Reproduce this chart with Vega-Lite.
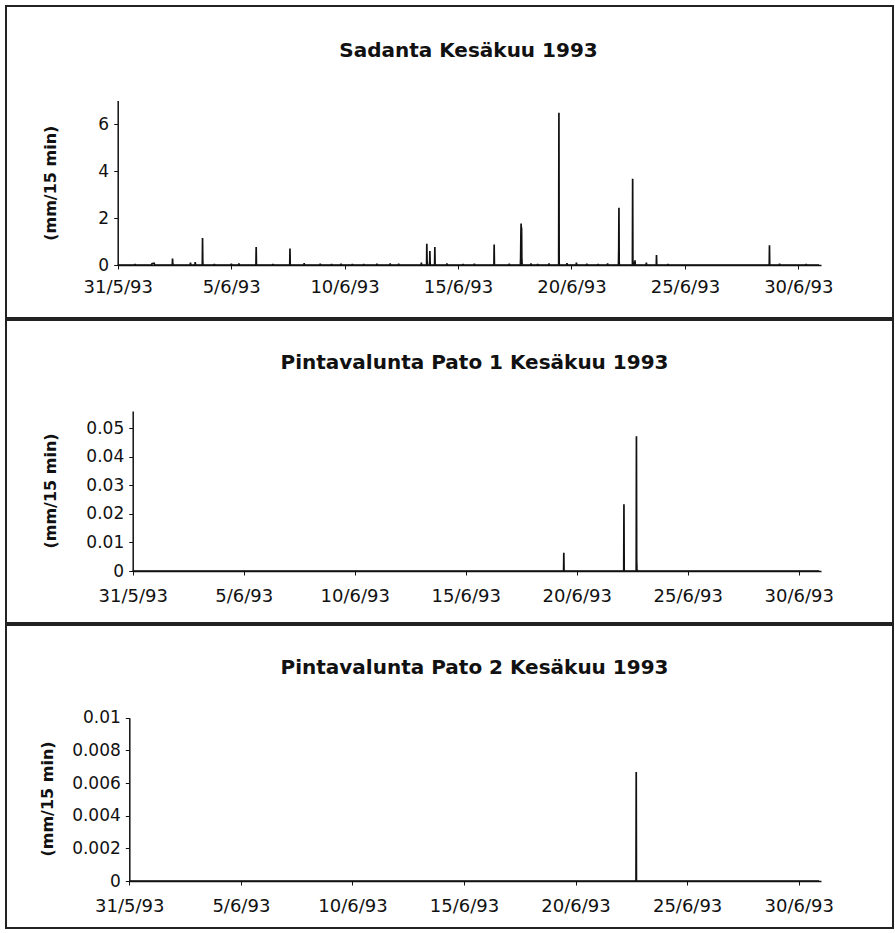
{
  "$schema": "https://vega.github.io/schema/vega-lite/v6.json",
  "padding": {"left": 5, "top": 5, "right": 3, "bottom": 4},
  "background": "white",
  "spacing": 0,
  "datasets": {
    "sadanta": [
      {"t": "1993-05-31 00:00", "v": 0},
      {"t": "1993-05-31 18:00", "v": 0}, {"t": "1993-05-31 18:15", "v": 0.05}, {"t": "1993-05-31 18:30", "v": 0},
      {"t": "1993-06-01 12:00", "v": 0}, {"t": "1993-06-01 12:15", "v": 0.06}, {"t": "1993-06-01 14:30", "v": 0.08}, {"t": "1993-06-01 14:45", "v": 0.05}, {"t": "1993-06-01 15:00", "v": 0},
      {"t": "1993-06-02 09:45", "v": 0}, {"t": "1993-06-02 10:00", "v": 0.27}, {"t": "1993-06-02 10:15", "v": 0.1}, {"t": "1993-06-02 10:30", "v": 0},
      {"t": "1993-06-03 04:45", "v": 0}, {"t": "1993-06-03 05:00", "v": 0.1}, {"t": "1993-06-03 05:15", "v": 0},
      {"t": "1993-06-03 09:45", "v": 0}, {"t": "1993-06-03 10:00", "v": 0.12}, {"t": "1993-06-03 10:15", "v": 0},
      {"t": "1993-06-03 17:30", "v": 0}, {"t": "1993-06-03 17:45", "v": 1.15}, {"t": "1993-06-03 18:00", "v": 0.1}, {"t": "1993-06-03 18:15", "v": 0},
      {"t": "1993-06-04 06:00", "v": 0}, {"t": "1993-06-04 06:15", "v": 0.05}, {"t": "1993-06-04 06:30", "v": 0},
      {"t": "1993-06-05 00:00", "v": 0}, {"t": "1993-06-05 00:15", "v": 0.06}, {"t": "1993-06-05 00:30", "v": 0},
      {"t": "1993-06-05 08:00", "v": 0}, {"t": "1993-06-05 08:15", "v": 0.07}, {"t": "1993-06-05 08:30", "v": 0},
      {"t": "1993-06-06 02:15", "v": 0}, {"t": "1993-06-06 02:30", "v": 0.77}, {"t": "1993-06-06 02:45", "v": 0.05}, {"t": "1993-06-06 03:00", "v": 0},
      {"t": "1993-06-06 20:00", "v": 0}, {"t": "1993-06-06 20:15", "v": 0.05}, {"t": "1993-06-06 20:30", "v": 0},
      {"t": "1993-06-07 14:00", "v": 0}, {"t": "1993-06-07 14:15", "v": 0.7}, {"t": "1993-06-07 14:30", "v": 0},
      {"t": "1993-06-08 05:00", "v": 0}, {"t": "1993-06-08 05:15", "v": 0.08}, {"t": "1993-06-08 05:30", "v": 0},
      {"t": "1993-06-08 22:00", "v": 0}, {"t": "1993-06-08 22:15", "v": 0.06}, {"t": "1993-06-08 22:30", "v": 0},
      {"t": "1993-06-09 10:00", "v": 0}, {"t": "1993-06-09 10:15", "v": 0.05}, {"t": "1993-06-09 10:30", "v": 0},
      {"t": "1993-06-09 20:00", "v": 0}, {"t": "1993-06-09 20:15", "v": 0.06}, {"t": "1993-06-09 20:30", "v": 0},
      {"t": "1993-06-10 08:00", "v": 0}, {"t": "1993-06-10 08:15", "v": 0.05}, {"t": "1993-06-10 08:30", "v": 0},
      {"t": "1993-06-10 20:00", "v": 0}, {"t": "1993-06-10 20:15", "v": 0.05}, {"t": "1993-06-10 20:30", "v": 0},
      {"t": "1993-06-11 10:00", "v": 0}, {"t": "1993-06-11 10:15", "v": 0.06}, {"t": "1993-06-11 10:30", "v": 0},
      {"t": "1993-06-12 00:00", "v": 0}, {"t": "1993-06-12 00:15", "v": 0.07}, {"t": "1993-06-12 00:30", "v": 0},
      {"t": "1993-06-12 09:00", "v": 0}, {"t": "1993-06-12 09:15", "v": 0.06}, {"t": "1993-06-12 09:30", "v": 0},
      {"t": "1993-06-13 09:00", "v": 0}, {"t": "1993-06-13 09:15", "v": 0.1}, {"t": "1993-06-13 09:30", "v": 0},
      {"t": "1993-06-13 14:45", "v": 0}, {"t": "1993-06-13 15:00", "v": 0.9}, {"t": "1993-06-13 15:15", "v": 0.2}, {"t": "1993-06-13 15:30", "v": 0.1}, {"t": "1993-06-13 15:45", "v": 0},
      {"t": "1993-06-13 18:00", "v": 0}, {"t": "1993-06-13 18:15", "v": 0.6}, {"t": "1993-06-13 18:30", "v": 0.1}, {"t": "1993-06-13 18:45", "v": 0},
      {"t": "1993-06-13 23:15", "v": 0}, {"t": "1993-06-13 23:30", "v": 0.77}, {"t": "1993-06-13 23:45", "v": 0},
      {"t": "1993-06-14 12:00", "v": 0}, {"t": "1993-06-14 12:15", "v": 0.07}, {"t": "1993-06-14 12:30", "v": 0},
      {"t": "1993-06-15 05:00", "v": 0}, {"t": "1993-06-15 05:15", "v": 0.05}, {"t": "1993-06-15 05:30", "v": 0},
      {"t": "1993-06-15 17:00", "v": 0}, {"t": "1993-06-15 17:15", "v": 0.06}, {"t": "1993-06-15 17:30", "v": 0},
      {"t": "1993-06-16 14:00", "v": 0}, {"t": "1993-06-16 14:15", "v": 0.87}, {"t": "1993-06-16 14:30", "v": 0},
      {"t": "1993-06-17 06:00", "v": 0}, {"t": "1993-06-17 06:15", "v": 0.06}, {"t": "1993-06-17 06:30", "v": 0},
      {"t": "1993-06-17 18:00", "v": 0}, {"t": "1993-06-17 18:15", "v": 0.3}, {"t": "1993-06-17 18:30", "v": 1.2}, {"t": "1993-06-17 18:45", "v": 1.77}, {"t": "1993-06-17 19:00", "v": 1.3}, {"t": "1993-06-17 19:15", "v": 1.6}, {"t": "1993-06-17 19:30", "v": 0.3}, {"t": "1993-06-17 19:45", "v": 0.1}, {"t": "1993-06-17 20:00", "v": 0},
      {"t": "1993-06-18 05:00", "v": 0}, {"t": "1993-06-18 05:15", "v": 0.07}, {"t": "1993-06-18 05:30", "v": 0},
      {"t": "1993-06-18 12:00", "v": 0}, {"t": "1993-06-18 12:15", "v": 0.05}, {"t": "1993-06-18 12:30", "v": 0},
      {"t": "1993-06-19 00:00", "v": 0}, {"t": "1993-06-19 00:15", "v": 0.07}, {"t": "1993-06-19 00:30", "v": 0},
      {"t": "1993-06-19 10:30", "v": 0}, {"t": "1993-06-19 10:45", "v": 6.48}, {"t": "1993-06-19 11:00", "v": 0.1}, {"t": "1993-06-19 11:15", "v": 0},
      {"t": "1993-06-19 19:00", "v": 0}, {"t": "1993-06-19 19:15", "v": 0.08}, {"t": "1993-06-19 19:30", "v": 0},
      {"t": "1993-06-20 05:00", "v": 0}, {"t": "1993-06-20 05:15", "v": 0.1}, {"t": "1993-06-20 05:30", "v": 0},
      {"t": "1993-06-20 16:00", "v": 0}, {"t": "1993-06-20 16:15", "v": 0.06}, {"t": "1993-06-20 16:30", "v": 0},
      {"t": "1993-06-21 04:00", "v": 0}, {"t": "1993-06-21 04:15", "v": 0.05}, {"t": "1993-06-21 04:30", "v": 0},
      {"t": "1993-06-21 14:00", "v": 0}, {"t": "1993-06-21 14:15", "v": 0.07}, {"t": "1993-06-21 14:30", "v": 0},
      {"t": "1993-06-22 01:45", "v": 0}, {"t": "1993-06-22 02:00", "v": 0.66}, {"t": "1993-06-22 02:15", "v": 2.44}, {"t": "1993-06-22 02:30", "v": 0.1}, {"t": "1993-06-22 02:45", "v": 0},
      {"t": "1993-06-22 16:30", "v": 0}, {"t": "1993-06-22 16:45", "v": 3.67}, {"t": "1993-06-22 17:00", "v": 0.2}, {"t": "1993-06-22 17:15", "v": 0.1}, {"t": "1993-06-22 17:30", "v": 0},
      {"t": "1993-06-22 19:00", "v": 0}, {"t": "1993-06-22 19:15", "v": 0.2}, {"t": "1993-06-22 19:30", "v": 0},
      {"t": "1993-06-23 07:00", "v": 0}, {"t": "1993-06-23 07:15", "v": 0.1}, {"t": "1993-06-23 07:30", "v": 0},
      {"t": "1993-06-23 17:45", "v": 0}, {"t": "1993-06-23 18:00", "v": 0.42}, {"t": "1993-06-23 18:15", "v": 0},
      {"t": "1993-06-24 06:00", "v": 0}, {"t": "1993-06-24 06:15", "v": 0.04}, {"t": "1993-06-24 06:30", "v": 0},
      {"t": "1993-06-28 17:15", "v": 0}, {"t": "1993-06-28 17:30", "v": 0.84}, {"t": "1993-06-28 17:45", "v": 0},
      {"t": "1993-06-29 04:00", "v": 0}, {"t": "1993-06-29 04:15", "v": 0.06}, {"t": "1993-06-29 04:30", "v": 0},
      {"t": "1993-06-30 08:00", "v": 0}, {"t": "1993-06-30 08:15", "v": 0.05}, {"t": "1993-06-30 08:30", "v": 0},
      {"t": "1993-06-30 22:00", "v": 0}
    ],
    "pato1": [
      {"t": "1993-05-31 00:00", "v": 0},
      {"t": "1993-06-19 09:45", "v": 0}, {"t": "1993-06-19 10:00", "v": 0.0064}, {"t": "1993-06-19 10:15", "v": 0},
      {"t": "1993-06-22 02:45", "v": 0}, {"t": "1993-06-22 03:00", "v": 0.0234}, {"t": "1993-06-22 03:15", "v": 0},
      {"t": "1993-06-22 16:15", "v": 0}, {"t": "1993-06-22 16:30", "v": 0.0472}, {"t": "1993-06-22 16:45", "v": 0.004}, {"t": "1993-06-22 17:00", "v": 0.001}, {"t": "1993-06-22 17:15", "v": 0},
      {"t": "1993-06-30 22:00", "v": 0}
    ],
    "pato2": [
      {"t": "1993-05-31 00:00", "v": 0},
      {"t": "1993-06-22 17:00", "v": 0}, {"t": "1993-06-22 17:15", "v": 0.00667}, {"t": "1993-06-22 17:30", "v": 0},
      {"t": "1993-06-30 22:00", "v": 0}
    ]
  },
  "vconcat": [
    {
      "width": 887,
      "height": 312,
      "title": {"text": "Sadanta Kesäkuu 1993", "offset": -55, "dx": 19},
      "data": {"name": "sadanta"},
      "mark": {"type": "line"},
      "encoding": {
        "x": {
          "field": "t", "type": "temporal",
          "scale": {"domain": [{"year": 1993, "month": 5, "date": 31}, {"year": 1993, "month": 7, "date": 1}], "range": [111.7, 815]},
          "axis": {"title": null, "format": "%-d/%-m/%y", "offset": -53, "labelPadding": 9,
                   "values": [{"year": 1993, "month": 5, "date": 31}, {"year": 1993, "month": 6, "date": 5}, {"year": 1993, "month": 6, "date": 10}, {"year": 1993, "month": 6, "date": 15}, {"year": 1993, "month": 6, "date": 20}, {"year": 1993, "month": 6, "date": 25}, {"year": 1993, "month": 6, "date": 30}]}
        },
        "y": {
          "field": "v", "type": "quantitative",
          "scale": {"domain": [0, 7], "range": [259, 94.5], "nice": false},
          "axis": {"title": "(mm/15 min)", "values": [0, 2, 4, 6], "format": "~g", "offset": -111.7, "titleX": -67.5, "titleY": 176.75}
        }
      }
    },
    {
      "width": 887,
      "height": 303,
      "title": {"text": "Pintavalunta Pato 1 Kesäkuu 1993", "offset": -53, "dx": 25},
      "data": {"name": "pato1"},
      "mark": {"type": "line"},
      "encoding": {
        "x": {
          "field": "t", "type": "temporal",
          "scale": {"domain": [{"year": 1993, "month": 5, "date": 31}, {"year": 1993, "month": 7, "date": 1}], "range": [126.7, 815]},
          "axis": {"title": null, "format": "%-d/%-m/%y", "offset": -52, "labelPadding": 12,
                   "values": [{"year": 1993, "month": 5, "date": 31}, {"year": 1993, "month": 6, "date": 5}, {"year": 1993, "month": 6, "date": 10}, {"year": 1993, "month": 6, "date": 15}, {"year": 1993, "month": 6, "date": 20}, {"year": 1993, "month": 6, "date": 25}, {"year": 1993, "month": 6, "date": 30}]}
        },
        "y": {
          "field": "v", "type": "quantitative",
          "scale": {"domain": [0, 0.056], "range": [251, 91], "nice": false},
          "axis": {"title": "(mm/15 min)", "values": [0, 0.01, 0.02, 0.03, 0.04, 0.05], "format": "~g", "offset": -126.7, "titleX": -82, "titleY": 170.5}
        }
      }
    },
    {
      "width": 887,
      "height": 303,
      "title": {"text": "Pintavalunta Pato 2 Kesäkuu 1993", "offset": -53, "dx": 25},
      "data": {"name": "pato2"},
      "mark": {"type": "line"},
      "encoding": {
        "x": {
          "field": "t", "type": "temporal",
          "scale": {"domain": [{"year": 1993, "month": 5, "date": 31}, {"year": 1993, "month": 7, "date": 1}], "range": [123.3, 815]},
          "axis": {"title": null, "format": "%-d/%-m/%y", "offset": -47, "labelPadding": 12,
                   "values": [{"year": 1993, "month": 5, "date": 31}, {"year": 1993, "month": 6, "date": 5}, {"year": 1993, "month": 6, "date": 10}, {"year": 1993, "month": 6, "date": 15}, {"year": 1993, "month": 6, "date": 20}, {"year": 1993, "month": 6, "date": 25}, {"year": 1993, "month": 6, "date": 30}]}
        },
        "y": {
          "field": "v", "type": "quantitative",
          "scale": {"domain": [0, 0.01], "range": [256, 92.7], "nice": false},
          "axis": {"title": "(mm/15 min)", "values": [0, 0.002, 0.004, 0.006, 0.008, 0.01], "format": "~g", "offset": -123.3, "titleX": -81.5, "titleY": 173.5}
        }
      }
    }
  ],
  "config": {
    "view": {"stroke": "#222", "strokeWidth": 2},
    "axis": {
      "grid": false,
      "domainColor": "#111", "domainWidth": 1.5,
      "tickColor": "#111", "tickSize": 4, "tickWidth": 1,
      "labelFont": "DejaVu Sans", "labelFontSize": 17, "labelColor": "#111",
      "labelFlush": false, "labelOverlap": false,
      "titleFont": "DejaVu Sans", "titleFontSize": 16, "titleFontWeight": "bold", "titleColor": "#111",
      "titleAngle": -90, "titleAlign": "center", "titleBaseline": "middle"
    },
    "axisX": {"labelAngle": 0, "labelFontSize": 18},
    "axisY": {"labelPadding": 5},
    "title": {"font": "DejaVu Sans", "fontSize": 20, "fontWeight": "bold", "color": "#111", "anchor": "middle", "frame": "group", "baseline": "middle"},
    "line": {"color": "#111", "strokeWidth": 1.7}
  }
}
